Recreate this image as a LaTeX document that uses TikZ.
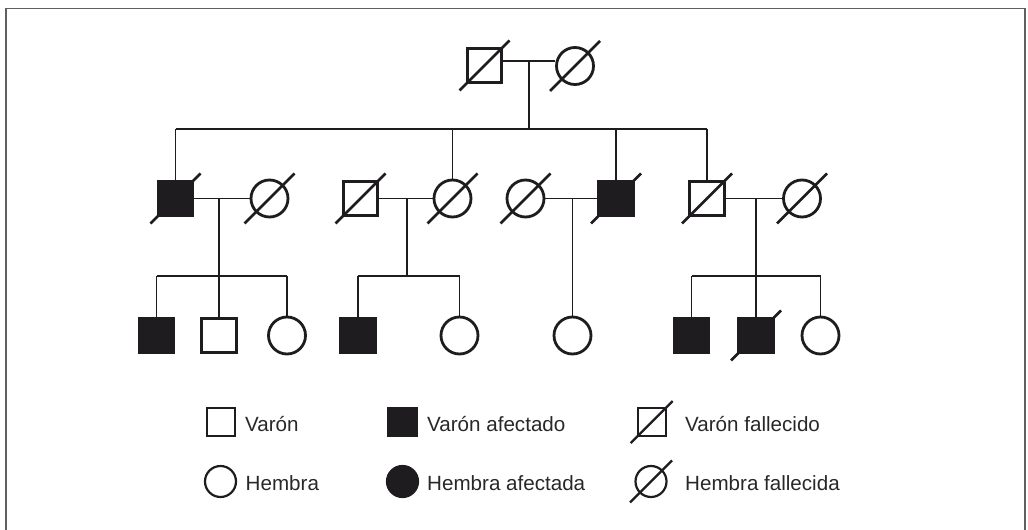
\documentclass[tikz,border=0pt]{standalone}
\usepackage{fontspec}
\setmainfont{Liberation Sans}
\definecolor{ink}{RGB}{30,28,30}
\definecolor{txt}{RGB}{40,40,40}
\definecolor{framec}{RGB}{95,95,100}
\newcommand\dmark[3][2.7pt]{\draw[ink,line width=#1] (#2.center) ++(-#3,#3) -- ++(2*#3,-2*#3);}
\begin{document}
\begin{tikzpicture}[x=1pt,y=-1pt,
  sq/.style={draw=ink,rectangle,minimum size=34.5pt,inner sep=0pt,line width=2.8pt},
  fsq/.style={sq,fill=ink},
  ci/.style={draw=ink,circle,minimum size=37pt,inner sep=0pt,line width=2.8pt},
  lsq/.style={draw=ink,rectangle,minimum size=28pt,inner sep=0pt,line width=2.2pt},
  lfsq/.style={lsq,fill=ink},
  lci/.style={draw=ink,circle,minimum size=31pt,inner sep=0pt,line width=2.2pt},
  lfci/.style={lci,fill=ink},
  conn/.style={draw=ink,line width=1.4pt},
  lbl/.style={anchor=base west,inner sep=0pt,text=txt,font=\fontsize{20.6}{24}\selectfont}]
\useasboundingbox (0,0) rectangle (1028,530);
\draw[framec,line width=1.6pt] (6,545) -- (6,8.5) -- (1025,8.5) -- (1025,545);

% generation 1
\node[sq] (g1m) at (484.5,65.5) {};
\node[ci] (g1f) at (575,66) {};
\dmark{g1m}{25}\dmark{g1f}{25}
\coordinate (g1c) at (529,61);
\coordinate (sib1) at (529,129);
\draw[conn] (g1m.east |- g1c) -- (g1f.west |- g1c);
\draw[conn] (g1c) -- (sib1);

% generation 2
\node[fsq] (a) at (175.5,198.5) {};
\node[ci] (ap) at (269.5,198.5) {};
\node[sq] (b) at (360.5,198.5) {};
\node[ci] (bp) at (452.5,198.5) {};
\node[ci] (cp) at (525.5,198.5) {};
\node[fsq] (c) at (616,198.5) {};
\node[sq] (d) at (707,198.5) {};
\node[ci] (dp) at (802,198.5) {};
\foreach \n in {a,ap,b,bp,cp,c,d,dp}{\dmark{\n}{25}}

\draw[conn] (a.north |- sib1) -- (d.north |- sib1);
\foreach \n in {a,bp,c,d}{\draw[conn] (\n.north |- sib1) -- (\n.north);}

\draw[conn] (a.east) -- (ap.west);
\draw[conn] (b.east) -- (bp.west);
\draw[conn] (cp.east) -- (c.west);
\draw[conn] (d.east) -- (dp.west);
\coordinate (am) at (219,198.5);
\coordinate (bm) at (407,198.5);
\coordinate (cm) at (572.5,198.5);
\coordinate (dm) at (756,198.5);
\coordinate (asib) at (219,276);
\coordinate (bsib) at (407,276);
\coordinate (dsib) at (756,276);

% generation 3
\node[fsq] (a1) at (156.5,335.5) {};
\node[sq] (a2) at (219,335.5) {};
\node[ci] (a3) at (287,335.5) {};
\node[fsq] (b1) at (358,335.5) {};
\node[ci] (b2) at (459.5,335.5) {};
\node[ci] (c1) at (572.5,335.5) {};
\node[fsq] (d1) at (691.5,335.5) {};
\node[fsq] (d2) at (756,335.5) {};
\node[ci] (d3) at (820.5,335.5) {};
\dmark{d2}{25}

\draw[conn] (am) -- (asib);
\draw[conn] (a1.north |- asib) -- (a3.north |- asib);
\foreach \n in {a1,a2,a3}{\draw[conn] (\n.north |- asib) -- (\n.north);}
\draw[conn] (bm) -- (bsib);
\draw[conn] (b1.north |- bsib) -- (b2.north |- bsib);
\foreach \n in {b1,b2}{\draw[conn] (\n.north |- bsib) -- (\n.north);}
\draw[conn] (cm) -- (c1.north);
\draw[conn] (dm) -- (dsib);
\draw[conn] (d1.north |- dsib) -- (d3.north |- dsib);
\foreach \n in {d1,d2,d3}{\draw[conn] (\n.north |- dsib) -- (\n.north);}

% legend
\node[lsq] (l1) at (220.7,422) {};
\node[lbl] (t1) at (245,431) {Varón};
\node[lfsq] (l2) at (402.5,422) {};
\node[lbl] (t2) at (427,431) {Varón afectado};
\node[lsq] (l3) at (651.7,422) {};
\dmark[2.2pt]{l3}{21}
\node[lbl] (t3) at (685,431) {Varón fallecido};
\node[lci] (l4) at (220.5,481.5) {};
\node[lbl] (t4) at (245.5,490) {Hembra};
\node[lfci] (l5) at (402.5,481.5) {};
\node[lbl] (t5) at (427,490) {Hembra afectada};
\node[lci] (l6) at (651,481.5) {};
\dmark[2.2pt]{l6}{21}
\node[lbl] (t6) at (685,490) {Hembra fallecida};
\end{tikzpicture}
\end{document}
